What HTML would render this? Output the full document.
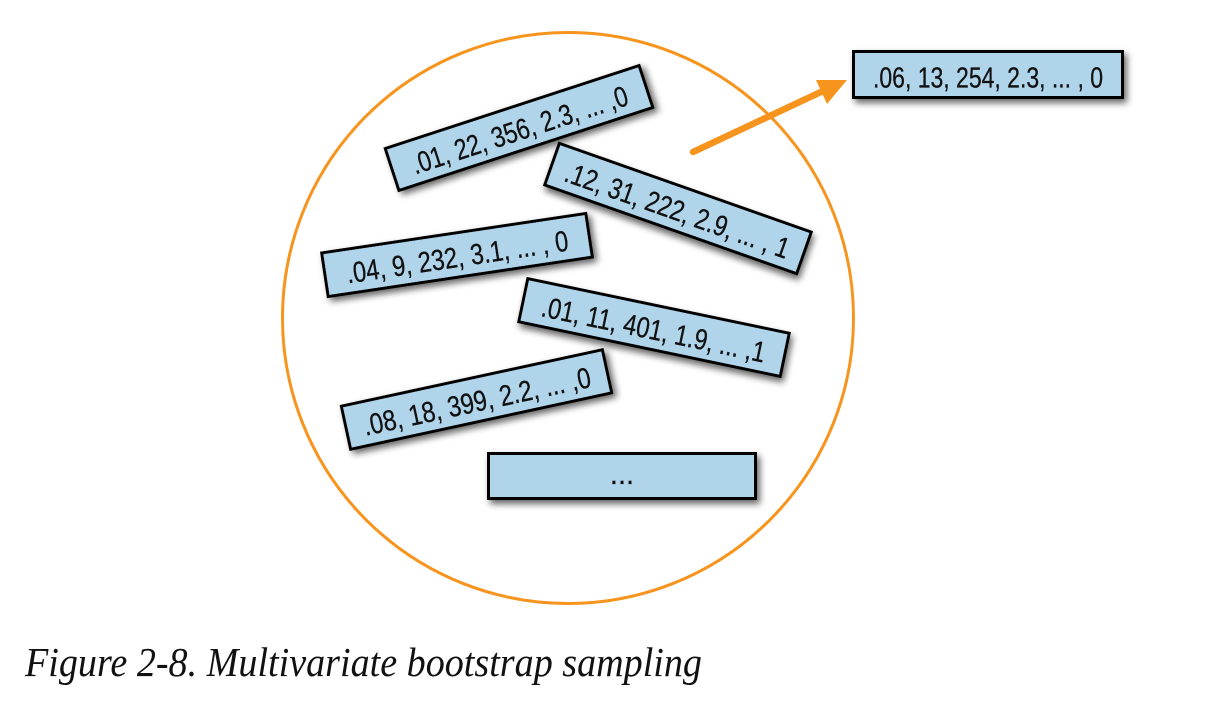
<!DOCTYPE html>
<html>
<head>
<meta charset="utf-8">
<style>
  html, body { margin: 0; padding: 0; background: #ffffff; }
  body { width: 1216px; height: 702px; overflow: hidden; }
  svg { display: block; }
  .bx { fill: #B0D4EA; stroke: #000; stroke-width: 3; }
  .t { font-family: "Liberation Sans Narrow", "Liberation Sans", sans-serif; font-size: 29px; fill: #111; stroke: #111; stroke-width: 0.3; }
</style>
</head>
<body>
<svg width="1216" height="702" viewBox="0 0 1216 702" xmlns="http://www.w3.org/2000/svg">
  <defs>
    <filter id="sh" x="-20%" y="-50%" width="140%" height="200%">
      <feDropShadow dx="3" dy="4" stdDeviation="3.5" flood-color="#000" flood-opacity="0.6"/>
    </filter>
  </defs>

  <!-- circle -->
  <circle cx="568" cy="318" r="285.5" fill="none" stroke="#F7941D" stroke-width="3"/>

  <!-- Box 1 -->
  <g transform="translate(519,128) rotate(-18.1)">
    <rect class="bx" x="-133.5" y="-22" width="267" height="44" filter="url(#sh)"/>
    <text class="t" x="0" y="12" text-anchor="middle" textLength="226" lengthAdjust="spacingAndGlyphs">.01, 22, 356, 2.3, ... ,0</text>
  </g>

  <!-- Box 2 -->
  <g transform="translate(678,208.5) rotate(19.4)">
    <rect class="bx" x="-133.5" y="-22" width="267" height="44" filter="url(#sh)"/>
    <text class="t" x="0" y="12" text-anchor="middle" textLength="236" lengthAdjust="spacingAndGlyphs">.12, 31, 222, 2.9, ... , 1</text>
  </g>

  <!-- Box 3 -->
  <g transform="translate(457,255) rotate(-8.5)">
    <rect class="bx" x="-133.5" y="-22" width="267" height="44" filter="url(#sh)"/>
    <text class="t" x="0" y="12" text-anchor="middle" textLength="224" lengthAdjust="spacingAndGlyphs">.04, 9, 232, 3.1, ... , 0</text>
  </g>

  <!-- Box 4 -->
  <g transform="translate(654,327.5) rotate(11.8)">
    <rect class="bx" x="-133.5" y="-22" width="267" height="44" filter="url(#sh)"/>
    <text class="t" x="0" y="12" text-anchor="middle" textLength="228" lengthAdjust="spacingAndGlyphs">.01, 11, 401, 1.9, ... ,1</text>
  </g>

  <!-- Box 5 -->
  <g transform="translate(476.5,399.5) rotate(-12.2)">
    <rect class="bx" x="-133.5" y="-22" width="267" height="44" filter="url(#sh)"/>
    <text class="t" x="0" y="12" text-anchor="middle" textLength="232" lengthAdjust="spacingAndGlyphs">.08, 18, 399, 2.2, ... ,0</text>
  </g>

  <!-- Box 6 -->
  <g transform="translate(622,476)">
    <rect class="bx" x="-133.5" y="-22.5" width="267" height="45" filter="url(#sh)"/>
    <text class="t" x="0" y="8" text-anchor="middle">...</text>
  </g>

  <!-- Arrow -->
  <line x1="693" y1="152" x2="824" y2="90.5" stroke="#F7941D" stroke-width="6.5" stroke-linecap="round"/>
  <polygon points="847,80 816,80 827,104" fill="#F7941D"/>

  <!-- Output box -->
  <g transform="translate(988,74.5)">
    <rect class="bx" x="-134.5" y="-23" width="269" height="46" filter="url(#sh)"/>
    <text class="t" x="0" y="13" text-anchor="middle" textLength="230" lengthAdjust="spacingAndGlyphs">.06, 13, 254, 2.3, ... , 0</text>
  </g>

  <!-- Caption -->
  <text x="25" y="676" font-family="Liberation Serif, serif" font-style="italic" font-size="41" fill="#111" textLength="677" lengthAdjust="spacingAndGlyphs">Figure 2-8. Multivariate bootstrap sampling</text>
</svg>
</body>
</html>
